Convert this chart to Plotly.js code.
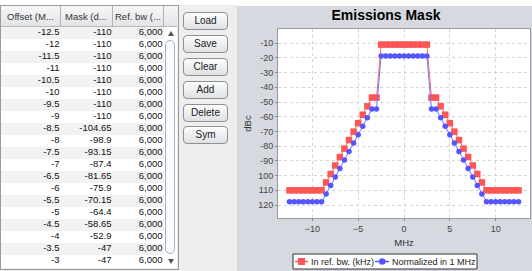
<!DOCTYPE html>
<html><head><meta charset="utf-8">
<script src="https://cdn.plot.ly/plotly-3.0.1.min.js"></script>
<style>
html,body{margin:0;padding:0;width:532px;height:271px;overflow:hidden;background:#ffffff;font-family:'Liberation Sans',Arial,sans-serif;}
#leftbg{position:absolute;left:0;top:5px;width:237px;height:266px;background:#eeeeee;}
#chartbg{position:absolute;left:237px;top:6px;width:295px;height:265px;background:#d6d9df;}
#hdrbg{position:absolute;left:1px;top:6px;width:176px;height:21px;background:linear-gradient(#f7f7f8,#e2e4e7);border-bottom:1px solid #b8b8b8;box-sizing:border-box;}
.hsep{position:absolute;top:6px;width:1px;height:21px;background:#b2b2b2;}
#plot{position:absolute;left:0;top:0;width:532px;height:271px;}
#tblborder{position:absolute;left:0;top:5px;width:177px;height:263px;border:1px solid #9a9a9a;pointer-events:none;}
#sbar{position:absolute;left:164px;top:27px;width:13px;height:241px;background:#ffffff;}
#thumb{position:absolute;left:1px;top:13px;width:10px;height:214px;border:1px solid #9fb3c8;border-radius:6px;background:#f8fbff;box-sizing:border-box;}
#uparr{position:absolute;left:4px;top:4px;width:0;height:0;border-left:3px solid transparent;border-right:3px solid transparent;border-bottom:5px solid #555;}
#dnarr{position:absolute;left:4px;top:232px;width:0;height:0;border-left:3px solid transparent;border-right:3px solid transparent;border-top:5px solid #555;}
.btn{position:absolute;left:183px;width:45px;height:18px;border:1px solid #8e9093;border-radius:4px;background:linear-gradient(#fdfdfd,#dfe1e4);font-size:10px;line-height:16px;text-align:center;color:#1a1a1a;box-sizing:border-box;}
</style>
</head><body>
<div id="leftbg"></div>
<div id="chartbg"></div>
<div id="hdrbg"></div>
<div class="hsep" style="left:60px"></div>
<div class="hsep" style="left:112px"></div>
<div class="hsep" style="left:163px"></div>
<div id="plot"></div>
<div id="sbar"><div id="uparr"></div><div id="thumb"></div><div id="dnarr"></div></div>
<div id="tblborder"></div>
<div class="btn" style="top:12px">Load</div>
<div class="btn" style="top:35px">Save</div>
<div class="btn" style="top:58px">Clear</div>
<div class="btn" style="top:81px">Add</div>
<div class="btn" style="top:104px">Delete</div>
<div class="btn" style="top:126px">Sym</div>
<script>
// ---- data ----
const offsets = [-12.5,-12,-11.5,-11,-10.5,-10,-9.5,-9,-8.5,-8,-7.5,-7,-6.5,-6,-5.5,-5,-4.5,-4,-3.5,-3,
  -2.5,-2,-1.5,-1,-0.5,0,0.5,1,1.5,2,2.5,
  3,3.5,4,4.5,5,5.5,6,6.5,7,7.5,8,8.5,9,9.5,10,10.5,11,11.5,12,12.5];
const mask = [-110,-110,-110,-110,-110,-110,-110,-110,-104.65,-98.9,-93.15,-87.4,-81.65,-75.9,-70.15,-64.4,-58.65,-52.9,-47,-47,
  -11,-11,-11,-11,-11,-11,-11,-11,-11,-11,-11,
  -47,-47,-52.9,-58.65,-64.4,-70.15,-75.9,-81.65,-87.4,-93.15,-98.9,-104.65,-110,-110,-110,-110,-110,-110,-110,-110];
const refBw = [6000,6000,6000,6000,6000,6000,6000,6000,6000,6000,6000,6000,6000,6000,6000,6000,6000,6000,6000,6000,
  6000,6000,6000,6000,6000,6000,6000,6000,6000,6000,6000,
  6000,6000,6000,6000,6000,6000,6000,6000,6000,6000,6000,6000,6000,6000,6000,6000,6000,6000,6000,6000];
const normalized = [-117.78,-117.78,-117.78,-117.78,-117.78,-117.78,-117.78,-117.78,-112.43,-106.68,-100.93,-95.18,-89.43,-83.68,-77.93,-72.18,-66.43,-60.68,-54.78,-54.78,
  -18.78,-18.78,-18.78,-18.78,-18.78,-18.78,-18.78,-18.78,-18.78,-18.78,-18.78,
  -54.78,-54.78,-60.68,-66.43,-72.18,-77.93,-83.68,-89.43,-95.18,-100.93,-106.68,-112.43,-117.78,-117.78,-117.78,-117.78,-117.78,-117.78,-117.78,-117.78];
const headers = ['Offset (M...','Mask (d...','Ref. bw (...'];
const seriesNames = ['In ref. bw. (kHz)','Normalized in 1 MHz'];
const seriesColors = ['#ff5555','#5555ff'];
const xTickVals = [-10,-5,0,5,10];
const yTickVals = [-120,-110,-100,-90,-80,-70,-60,-50,-40,-30,-20,-10];
const yTickText = ['120','110','100','-90','-80','-70','-60','-50','-40','-30','-20','-10'];

// ---- geometry helpers (pixels -> paper) ----
const W = 532, H = 271;
const px = v => v / W, py = v => 1 - v / H;
const FONT = "'Liberation Sans', Arial, sans-serif";

// ---- table: the visible scroll window (first 20 rows) drawn through axes x2/y2 ----
const visibleRows = 20;
const rowIdx = offsets.map((_, i) => i).slice(0, visibleRows);
const colRight = [60, 112, 163];
const colLeft = [1, 60, 112];
const textInset = 1.5;
const cellFont = {family: FONT, size: 9.5, color: '#111'};
const traces = [
  {
    type: 'bar', orientation: 'h', xaxis: 'x2', yaxis: 'y2', showlegend: false,
    y: rowIdx, x: rowIdx.map(() => 176), base: 0, width: 1,
    marker: {color: rowIdx.map(i => i % 2 === 0 ? '#f2f2f2' : '#ffffff'), line: {width: 0}},
    hoverinfo: 'skip'
  },
  {
    type: 'scatter', mode: 'text', xaxis: 'x2', yaxis: 'y2', showlegend: false,
    y: rowIdx, x: rowIdx.map(() => colRight[0] - textInset), text: rowIdx.map(i => String(offsets[i])),
    textposition: 'middle left', textfont: cellFont, cliponaxis: true
  },
  {
    type: 'scatter', mode: 'text', xaxis: 'x2', yaxis: 'y2', showlegend: false,
    y: rowIdx, x: rowIdx.map(() => colRight[1] - textInset), text: rowIdx.map(i => String(mask[i])),
    textposition: 'middle left', textfont: cellFont, cliponaxis: true
  },
  {
    type: 'scatter', mode: 'text', xaxis: 'x2', yaxis: 'y2', showlegend: false,
    y: rowIdx, x: rowIdx.map(() => colRight[2] - textInset), text: rowIdx.map(i => refBw[i].toLocaleString('en-US')),
    textposition: 'middle left', textfont: cellFont, cliponaxis: true
  },
  // ---- chart ----
  {
    type: 'scatter', mode: 'lines+markers', name: seriesNames[0], showlegend: false,
    x: offsets, y: mask,
    line: {color: '#ff6e6e', width: 1},
    marker: {symbol: 'square', size: 6.5, color: seriesColors[0]}
  },
  {
    type: 'scatter', mode: 'lines+markers', name: seriesNames[1], showlegend: false,
    x: offsets, y: normalized,
    line: {color: '#7070ff', width: 1},
    marker: {symbol: 'circle', size: 5.5, color: seriesColors[1]}
  }
];

const annotations = headers.map((h, i) => ({
  text: h, xref: 'paper', yref: 'paper',
  x: px((colLeft[i] + colRight[i]) / 2), y: py(16.5), xanchor: 'center', yanchor: 'middle',
  showarrow: false, font: {family: FONT, size: 9.5, color: '#333'}
}));

// compact legend box
const legTop = 254, legBot = 269, legMid = 261.5;
const shapes = [
  {type: 'rect', xref: 'paper', yref: 'paper', x0: px(293), x1: px(477), y0: py(legBot), y1: py(legTop),
   fillcolor: '#ffffff', line: {color: '#333333', width: 1}, layer: 'above'},
  {type: 'line', xref: 'paper', yref: 'paper', x0: px(295), x1: px(308), y0: py(legMid), y1: py(legMid),
   line: {color: seriesColors[0], width: 1.5}, layer: 'above'},
  {type: 'rect', xref: 'paper', yref: 'paper', x0: px(298), x1: px(305), y0: py(legMid + 3.5), y1: py(legMid - 3.5),
   fillcolor: seriesColors[0], line: {width: 0}, layer: 'above'},
  {type: 'line', xref: 'paper', yref: 'paper', x0: px(375), x1: px(389), y0: py(legMid), y1: py(legMid),
   line: {color: seriesColors[1], width: 1.5}, layer: 'above'},
  {type: 'circle', xref: 'paper', yref: 'paper', x0: px(379), x1: px(385.5), y0: py(legMid + 3.25), y1: py(legMid - 3.25),
   fillcolor: seriesColors[1], line: {width: 0}, layer: 'above'}
];
annotations.push(
  {text: seriesNames[0], xref: 'paper', yref: 'paper', x: px(309), y: py(legMid), xanchor: 'left', yanchor: 'middle',
   showarrow: false, font: {family: FONT, size: 9, color: '#222'}},
  {text: seriesNames[1], xref: 'paper', yref: 'paper', x: px(390), y: py(legMid), xanchor: 'left', yanchor: 'middle',
   showarrow: false, font: {family: FONT, size: 9, color: '#222'}}
);

const axisFont = {family: FONT, size: 9, color: '#444'};
const layout = {
  width: W, height: H,
  margin: {l: 0, r: 0, t: 0, b: 0, autoexpand: false},
  paper_bgcolor: 'rgba(0,0,0,0)',
  plot_bgcolor: '#ffffff',
  showlegend: false,
  bargap: 0,
  title: {
    text: 'Emissions Mask',
    font: {family: FONT, size: 14, weight: 'bold', color: '#000'},
    x: 386 / W, xanchor: 'center', y: 1 - 15 / H, yanchor: 'middle'
  },
  xaxis: {
    domain: [px(278), px(530)],
    range: [-13.75, 13.75],
    tickvals: xTickVals,
    tickfont: axisFont,
    ticks: 'outside', ticklen: 2, tickcolor: '#888',
    showgrid: true, gridcolor: '#d4d4d4', griddash: 'dot', gridwidth: 1,
    zeroline: false,
    showline: true, linecolor: '#9a9a9a', linewidth: 1, mirror: true,
    title: {text: 'MHz', font: {family: FONT, size: 9.5, color: '#333'}, standoff: 6}
  },
  yaxis: {
    domain: [py(218), py(29)],
    range: [-128.8, -0.4],
    tickvals: yTickVals,
    ticktext: yTickText,
    tickfont: axisFont,
    ticks: 'outside', ticklen: 2, tickcolor: '#888',
    showgrid: true, gridcolor: '#d4d4d4', griddash: 'dot', gridwidth: 1,
    zeroline: false,
    showline: true, linecolor: '#9a9a9a', linewidth: 1, mirror: true,
    title: {text: 'dBc', font: {family: FONT, size: 9.5, color: '#333'}, standoff: 4}
  },
  xaxis2: {domain: [px(1), px(177)], range: [0, 176], visible: false, fixedrange: true, anchor: 'y2'},
  yaxis2: {domain: [py(268), py(27)], range: [19.583, -0.5], visible: false, fixedrange: true, anchor: 'x2'},
  annotations: annotations,
  shapes: shapes
};

Plotly.newPlot('plot', traces, layout, {displayModeBar: false, staticPlot: true});
</script>
</body></html>
